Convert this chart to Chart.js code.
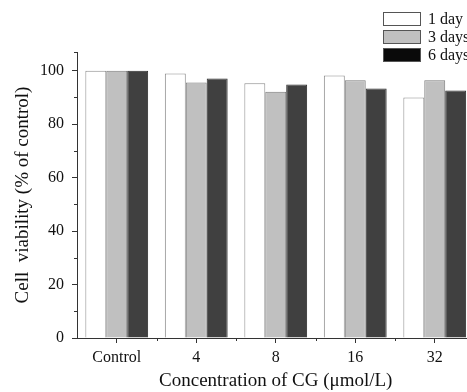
<!DOCTYPE html>
<html>
<head>
<meta charset="utf-8">
<script src="https://cdn.jsdelivr.net/npm/chart.js@4/dist/chart.umd.min.js"></script>
<style>
html,body{margin:0;padding:0;background:#fff;overflow:hidden;}
canvas{display:block;}
</style>
</head>
<body>
<canvas id="c" width="480" height="392"></canvas>
<script>
const categories = ["Control", "4", "8", "16", "32"];
const seriesNames = ["1 day", "3 days", "6 days"];
const day1 = [100, 99.0, 95.3, 98.2, 90.0];
const day3 = [100, 95.6, 92.1, 96.4, 96.4];
const day6 = [100, 97.1, 94.8, 93.3, 92.6];
const yTickLabels = [0, 20, 40, 60, 80, 100];

const fills = ["#ffffff", "#c0c0c0", "#404040"];
const borders = ["#8a8a8a", "#7a7a7a", "#2a2a2a"];
const legendFills = ["#ffffff", "#c0c0c0", "#0a0a0a"];
const serif = "'Liberation Serif', 'Times New Roman', serif";
const axisColor = "#333333";

const minorTicks = {
  id: "minorTicks",
  afterDraw(chart) {
    const ctx = chart.ctx;
    const x = chart.scales.x, y = chart.scales.y;
    ctx.save();
    ctx.strokeStyle = axisColor;
    ctx.lineWidth = 1;
    ctx.beginPath();
    for (let v = 10; v < y.max; v += 20) {
      const py = Math.round(y.getPixelForValue(v)) + 0.5;
      ctx.moveTo(x.left - 3, py); ctx.lineTo(x.left, py);
    }
    const pt = Math.round(y.getPixelForValue(y.max)) + 0.5;
    ctx.moveTo(x.left - 3, pt); ctx.lineTo(x.left, pt);
    for (let i = 1; i <= categories.length; i++) {
      const px = Math.round((x.getPixelForValue(i - 1) + x.getPixelForValue(i)) / 2) + 0.5;
      ctx.moveTo(px, y.bottom); ctx.lineTo(px, y.bottom + 3);
    }
    ctx.stroke();
    ctx.restore();
  }
};

const boxLegend = {
  id: "boxLegend",
  afterDraw(chart) {
    const ctx = chart.ctx;
    ctx.save();
    ctx.font = "16px " + serif;
    ctx.textBaseline = "middle";
    ctx.textAlign = "left";
    const x0 = 383, w = 37, h = 13, gap = 18, y0 = 12;
    chart.data.datasets.forEach((ds, i) => {
      const yy = y0 + i * gap;
      ctx.fillStyle = legendFills[i];
      ctx.fillRect(x0, yy, w, h);
      ctx.strokeStyle = "#555555";
      ctx.lineWidth = 1;
      ctx.strokeRect(x0 + 0.5, yy + 0.5, w, h);
      ctx.fillStyle = "#111111";
      ctx.fillText(ds.label, x0 + w + 8, yy + h / 2 + 1);
    });
    ctx.restore();
  }
};

new Chart(document.getElementById("c"), {
  type: "bar",
  data: {
    labels: categories,
    datasets: [day1, day3, day6].map((d, i) => ({
      label: seriesNames[i],
      data: d,
      backgroundColor: fills[i],
      borderColor: borders[i],
      borderWidth: 1,
      categoryPercentage: 0.79,
      barPercentage: 1.0
    }))
  },
  options: {
    responsive: false,
    animation: false,
    events: [],
    layout: { padding: { top: 52, right: 5.5, left: 0, bottom: 0 } },
    plugins: { legend: { display: false }, tooltip: { enabled: false } },
    scales: {
      x: {
        grid: { display: true, drawOnChartArea: false, offset: false, tickLength: 5, color: axisColor },
        border: { display: true, color: axisColor, width: 1 },
        ticks: { color: "#111", font: { family: serif, size: 16 }, padding: 5, maxRotation: 0, autoSkip: false },
        title: { display: true, text: "Concentration of CG (\u03bcmol/L)", color: "#111",
                 font: { family: serif, size: 19, lineHeight: 1 }, padding: { top: 0, bottom: 1 } },
        afterFit(s) { s.height = 54; }
      },
      y: {
        min: 0, max: 107,
        grid: { display: true, drawOnChartArea: false, tickLength: 5, color: axisColor },
        border: { display: true, color: axisColor, width: 1 },
        ticks: {
          stepSize: 20, includeBounds: false, color: "#111", padding: 8,
          font: { family: serif, size: 16 },
          callback: (v) => yTickLabels.includes(v) ? String(v) : ""
        },
        title: { display: true, text: "Cell  viability (% of control)", color: "#111",
                 font: { family: serif, size: 19, lineHeight: 1 }, padding: { top: 14, bottom: 0 } },
        afterFit(s) { s.width = 77; }
      }
    }
  },
  plugins: [minorTicks, boxLegend]
});
</script>
</body>
</html>
